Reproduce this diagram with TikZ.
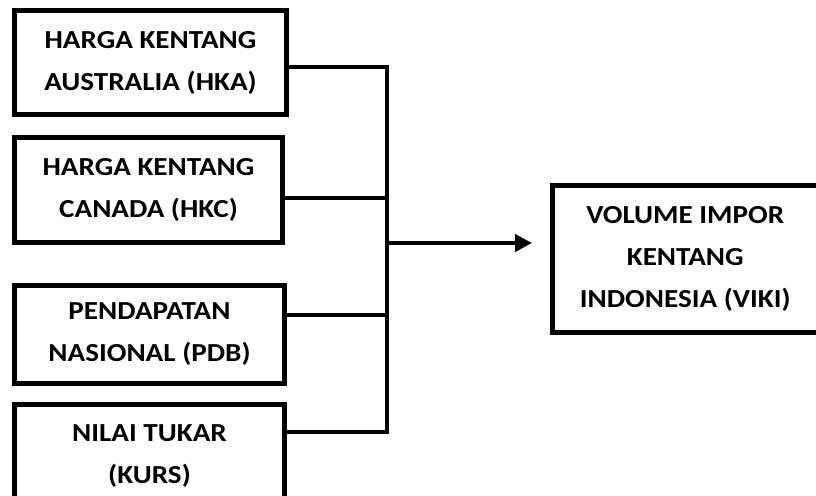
\documentclass[tikz,border=0pt]{standalone}
\usepackage{fontspec}
\setmainfont{Carlito}[FakeStretch=1.12]
\usetikzlibrary{arrows.meta}
\tikzset{
  box/.style={draw, line width=5pt, rectangle, inner sep=0pt, align=center,
    font=\fontsize{26}{42}\selectfont\bfseries},
  conn/.style={line width=4.5pt},
}
\begin{document}
\begin{tikzpicture}[x=1pt,y=-1pt]
\useasboundingbox (0,0) rectangle (816,495);
\clip (0,0) rectangle (816,495);
\node[box, minimum width=272pt, minimum height=104pt] (hka) at (150.5,62.5) {HARGA KENTANG\\AUSTRALIA (HKA)};
\node[box, minimum width=268pt, minimum height=105pt] (hkc) at (148.5,190) {HARGA KENTANG\\CANADA (HKC)};
\node[box, minimum width=270pt, minimum height=98pt] (pdb) at (149.5,334.5) {PENDAPATAN\\NASIONAL (PDB)};
\node[box, minimum width=270pt, minimum height=103.5pt] (kurs) at (149.5,456) {NILAI TUKAR\\(KURS)};
\node[box, minimum width=265.5pt, minimum height=147pt] (viki) at (685.25,259) {VOLUME IMPOR\\KENTANG\\INDONESIA (VIKI)};
\coordinate (j1) at (387,67);
\coordinate (j2) at (387,198);
\coordinate (jm) at (387,243);
\coordinate (j3) at (387,315);
\coordinate (j4) at (387,432);
\draw[conn] (hka.east |- j1) -- (j1) -- (j4) -- (kurs.east |- j4);
\draw[conn] (hkc.east |- j2) -- (j2);
\draw[conn] (pdb.east |- j3) -- (j3);
\draw[conn, -{Triangle[length=17pt,width=17pt]}, shorten >=18pt] (jm) -- (viki.west |- jm);
\end{tikzpicture}
\end{document}
